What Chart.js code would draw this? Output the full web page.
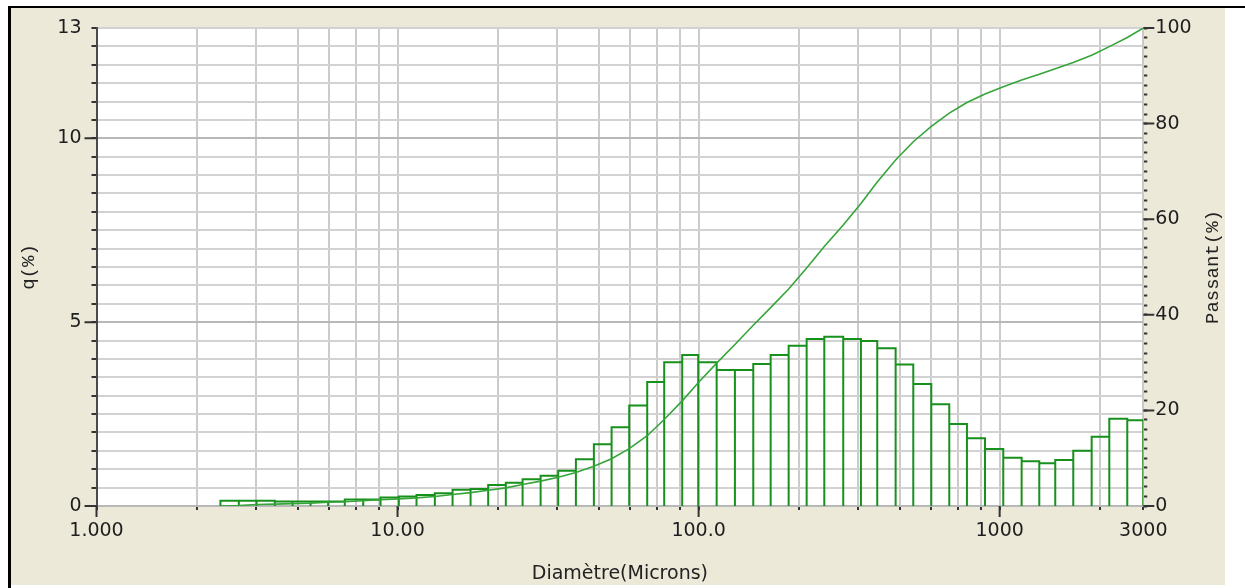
<!DOCTYPE html>
<html>
<head>
<meta charset="utf-8">
<title>Granulométrie</title>
<script src="https://cdn.jsdelivr.net/npm/chart.js@4.4.1/dist/chart.umd.min.js"></script>
<style>
  html, body { margin: 0; padding: 0; background: #fff; }
  #frame { position: absolute; left: 8px; top: 6px; width: 1237px; height: 582px;
           border-top: 2px solid #000; border-left: 3px solid #000; box-sizing: border-box; }
  #panel { position: absolute; left: 11px; top: 8px; width: 1214px; height: 577px; background: #ece9d8; }
  #chart { position: absolute; left: 0; top: 0; }
</style>
</head>
<body>
<div id="frame"></div>
<div id="panel"></div>
<canvas id="chart" width="1245" height="588"></canvas>
<script>
// bin edges in microns (53 edges -> 52 classes)
const binEdges = [2.58, 2.97, 3.40, 3.91, 4.48, 5.14, 5.88, 6.68, 7.69, 8.78,
  10.1, 11.56, 13.3, 15.23, 17.48, 20.0, 22.89, 26.02, 29.87, 34.17,
  39.12, 44.89, 51.4, 58.82, 67.5, 76.86, 88.22, 99.7, 114.8, 132.0,
  151.9, 173.5, 199.1, 228.5, 261.5, 302.3, 346.1, 392.1, 451.3, 516.5,
  592.7, 680.2, 778.6, 893.9, 1028, 1183, 1354, 1530, 1756, 2021,
  2313, 2654, 3000];

// q(%) per class
const qPercent = [0.14, 0.14, 0.14, 0.12, 0.12, 0.12, 0.12, 0.18, 0.18, 0.23,
  0.26, 0.30, 0.35, 0.44, 0.46, 0.57, 0.63, 0.73, 0.82, 0.96,
  1.27, 1.68, 2.14, 2.73, 3.37, 3.91, 4.11, 3.91, 3.70, 3.70,
  3.86, 4.11, 4.36, 4.54, 4.60, 4.54, 4.49, 4.29, 3.85, 3.32,
  2.77, 2.23, 1.84, 1.55, 1.31, 1.22, 1.16, 1.25, 1.50, 1.88,
  2.37, 2.33];

// Passant(%) read at each edge
const passant = [0, 0.1, 0.3, 0.4, 0.5, 0.6, 0.8, 0.9, 1.1, 1.3,
  1.5, 1.7, 2.0, 2.4, 2.8, 3.3, 3.8, 4.5, 5.2, 6.0,
  7.0, 8.3, 9.9, 12.0, 14.7, 18.1, 22.0, 25.8, 29.9, 33.8,
  37.8, 41.5, 45.4, 49.8, 54.3, 58.8, 63.3, 67.8, 72.4, 76.2,
  79.4, 82.2, 84.4, 86.2, 87.7, 89.1, 90.3, 91.5, 92.8, 94.3,
  96.1, 98.0, 100.0];

const xDecades = [1, 10, 100, 1000];
const xGridFactors = [2.15, 3.39, 4.66, 5.92, 7.26, 8.69];
const xLabelValues = [1, 10, 100, 1000, 3000];
const xLabels = ["1.000", "10.00", "100.0", "1000", "3000"];
const qLabels = [0, 5, 10, 13];
const qStep = 0.5;
const passantLabels = [0, 20, 40, 60, 80, 100];
const passantStep = 2;

const X_MIN = 1, X_MAX = 3000;
const fontTicks = { family: "DejaVu Sans", size: 19 };

// histogram outline: up, across, down for each class
const histPoints = [];
for (let i = 0; i < qPercent.length; i++) {
  histPoints.push({ x: binEdges[i], y: 0 });
  histPoints.push({ x: binEdges[i], y: qPercent[i] });
  histPoints.push({ x: binEdges[i + 1], y: qPercent[i] });
  histPoints.push({ x: binEdges[i + 1], y: 0 });
}
const passantPoints = binEdges.map((e, i) => ({ x: e, y: passant[i] }));

function stepTicks(max, step) {
  const t = [];
  for (let v = 0; v <= max + 1e-9; v += step) t.push({ value: Math.round(v * 100) / 100 });
  return t;
}

const plotBg = {
  id: "plotBg",
  beforeDraw(chart) {
    const { ctx, chartArea: a } = chart;
    ctx.save();
    ctx.fillStyle = "#ffffff";
    ctx.fillRect(a.left, a.top, a.right - a.left, a.bottom - a.top);
    ctx.restore();
  }
};

const axisDecor = {
  id: "axisDecor",
  afterDraw(chart) {
    const { ctx, chartArea: a } = chart;
    const sx = chart.scales.x, sy = chart.scales.y, sy2 = chart.scales.y2;
    ctx.save();
    ctx.strokeStyle = "#333";
    ctx.lineWidth = 2;
    ctx.beginPath();
    [0, 5, 10].forEach(v => {
      const y = sy.getPixelForValue(v);
      ctx.moveTo(a.left - 12, y); ctx.lineTo(a.left, y);
    });
    xDecades.forEach(v => {
      const x = sx.getPixelForValue(v);
      ctx.moveTo(x, a.bottom); ctx.lineTo(x, a.bottom + 11);
    });
    passantLabels.forEach(v => {
      const y = sy2.getPixelForValue(v);
      ctx.moveTo(a.right, y); ctx.lineTo(a.right + 11, y);
    });
    ctx.stroke();

    ctx.fillStyle = "#222";
    ctx.textAlign = "center";
    ctx.textBaseline = "middle";
    const midY = (a.top + a.bottom) / 2;
    ctx.font = '19px "Liberation Mono"';
    ctx.save();
    ctx.translate(29, midY);
    ctx.rotate(-Math.PI / 2);
    ctx.fillText("q(%)", 0, 0);
    ctx.restore();
    ctx.save();
    ctx.translate(1213, midY);
    ctx.rotate(-Math.PI / 2);
    ctx.fillText("Passant(%)", 0, 0);
    ctx.restore();
    ctx.font = '19px "DejaVu Sans"';
    ctx.fillText("Diamètre(Microns)", (a.left + a.right) / 2, 574);
    ctx.restore();
  }
};

new Chart(document.getElementById("chart"), {
  type: "scatter",
  data: {
    datasets: [
      {
        label: "Passant",
        data: passantPoints,
        yAxisID: "y2",
        showLine: true,
        borderColor: "#35a53a",
        borderWidth: 1.6,
        pointRadius: 0,
        tension: 0,
        fill: false
      },
      {
        label: "q",
        data: histPoints,
        yAxisID: "y",
        showLine: true,
        borderColor: "#17901c",
        borderWidth: 2,
        pointRadius: 0,
        tension: 0,
        fill: false
      }
    ]
  },
  options: {
    responsive: false,
    animation: false,
    events: [],
    layout: { padding: { top: 28, left: 0, right: 0, bottom: 0 } },
    plugins: { legend: { display: false }, tooltip: { enabled: false } },
    scales: {
      x: {
        type: "logarithmic",
        position: "bottom",
        min: X_MIN,
        max: X_MAX,
        afterBuildTicks(scale) {
          const t = [];
          xDecades.forEach(d => {
            t.push({ value: d });
            xGridFactors.forEach(f => { if (d * f < X_MAX) t.push({ value: d * f }); });
          });
          t.push({ value: X_MAX });
          scale.ticks = t;
        },
        afterFit(scale) { scale.height = 82; },
        ticks: {
          autoSkip: false,
          maxRotation: 0,
          padding: 10,
          color: "#1e1e1e",
          font: fontTicks,
          callback(value) {
            const i = xLabelValues.findIndex(v => Math.abs(v - value) < 1e-6 * v);
            return i >= 0 ? xLabels[i] : "";
          }
        },
        grid: { color: "#cbcbcb", lineWidth: 2, tickLength: 4, tickColor: "#333", tickWidth: 2 },
        border: { display: false }
      },
      y: {
        type: "linear",
        position: "left",
        min: 0,
        max: 13,
        afterBuildTicks(scale) { scale.ticks = stepTicks(13, qStep); },
        afterFit(scale) { scale.width = 96.5; },
        ticks: {
          autoSkip: false,
          padding: 10,
          color: "#1e1e1e",
          font: fontTicks,
          callback(value) { return qLabels.includes(value) ? String(value) : ""; }
        },
        grid: {
          color: ctx => (ctx.tick && ctx.tick.value % 5 === 0 ? "#b8b8b8" : "#d2d2d2"),
          lineWidth: 2,
          tickLength: 5,
          tickColor: "#333",
          tickWidth: 2
        },
        border: { display: true, color: "#4a4a4a", width: 2 }
      },
      y2: {
        type: "linear",
        position: "right",
        min: 0,
        max: 100,
        afterBuildTicks(scale) { scale.ticks = stepTicks(100, passantStep); },
        afterFit(scale) { scale.width = 101.7; },
        ticks: {
          autoSkip: false,
          padding: 8,
          color: "#1e1e1e",
          font: fontTicks,
          callback(value) { return passantLabels.includes(value) ? String(value) : ""; }
        },
        grid: { drawOnChartArea: false, tickLength: 4, tickColor: "#333", tickWidth: 2 },
        border: { display: true, color: "#c8c8c8", width: 1 }
      }
    }
  },
  plugins: [plotBg, axisDecor]
});
</script>
</body>
</html>
